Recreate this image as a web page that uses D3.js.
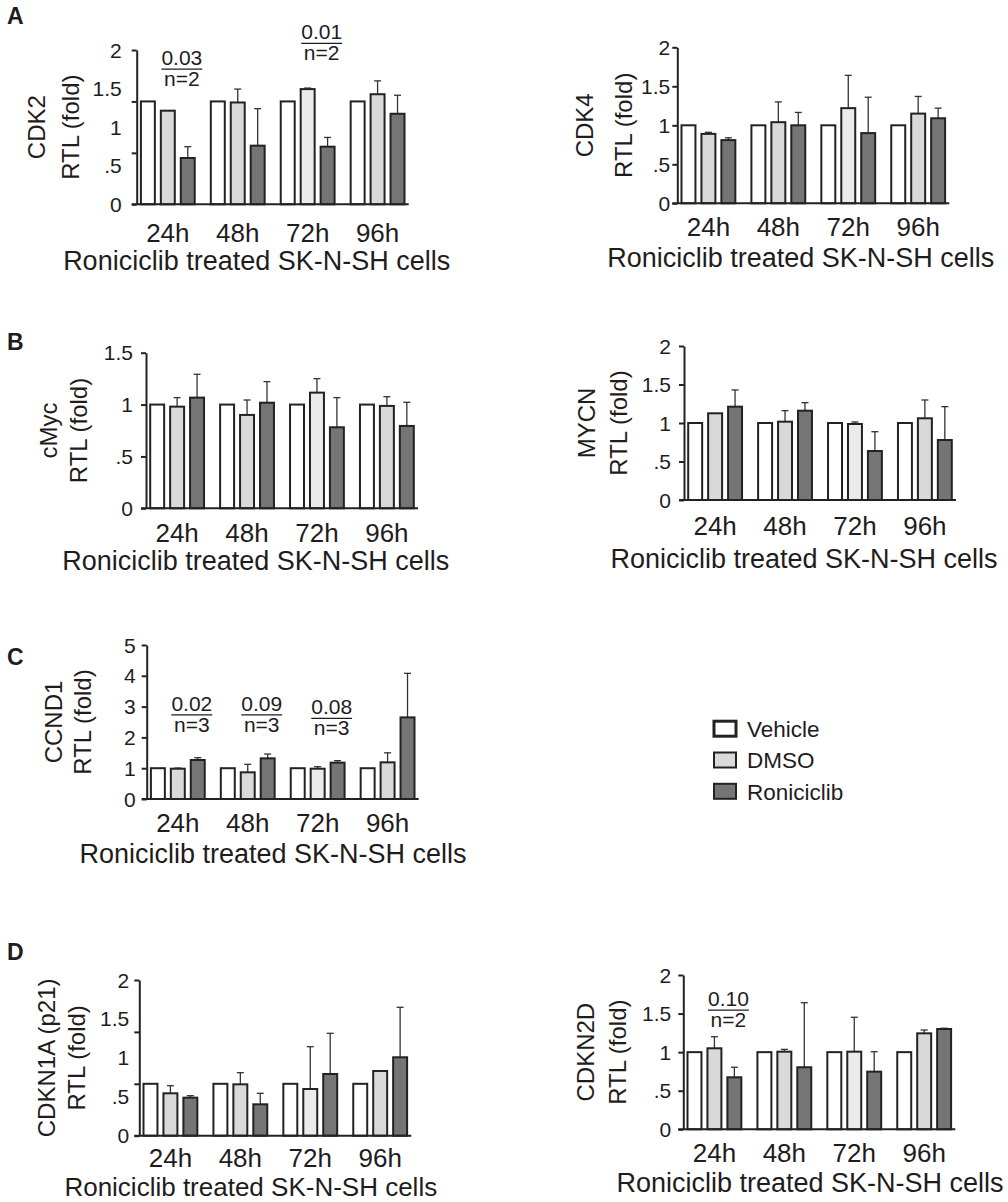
<!DOCTYPE html>
<html><head><meta charset="utf-8">
<script src="https://cdn.jsdelivr.net/npm/d3@7"></script>
<style>
body{margin:0;background:#fff}
svg text{font-family:"Liberation Sans", Arial, Helvetica, sans-serif; fill:#1f1c1d}
</style>
</head><body>
<svg id="c" width="1008" height="1202"></svg>
<script>
// ---------- data ----------
const timepoints = ["24h", "48h", "72h", "96h"];
const seriesNames = ["Vehicle", "DMSO", "Roniciclib"];
const vehicleMeans = [1, 1, 1, 1];

const cdk2DMSO = [0.91, 0.99, 1.12, 1.07];
const cdk2DMSOErr = [0, 0.13, 0.01, 0.13];
const cdk2Ronic = [0.45, 0.57, 0.56, 0.88];
const cdk2RonicErr = [0.11, 0.36, 0.09, 0.18];
const cdk2TickLabels = ["0", ".5", "1", "1.5", "2"];

const cdk4DMSO = [0.89, 1.04, 1.22, 1.15];
const cdk4DMSOErr = [0.02, 0.26, 0.42, 0.22];
const cdk4Ronic = [0.81, 1.0, 0.9, 1.09];
const cdk4RonicErr = [0.03, 0.165, 0.46, 0.13];
const cdk4TickLabels = ["0", ".5", "1", "1.5", "2"];

const cmycDMSO = [0.98, 0.9, 1.115, 0.987];
const cmycDMSOErr = [0.087, 0.144, 0.135, 0.089];
const cmycRonic = [1.067, 1.018, 0.781, 0.794];
const cmycRonicErr = [0.225, 0.203, 0.286, 0.228];
const cmycTickLabels = ["0", ".5", "1", "1.5"];

const mycnDMSO = [1.126, 1.017, 0.987, 1.061];
const mycnDMSOErr = [0, 0.143, 0.026, 0.238];
const mycnRonic = [1.212, 1.16, 0.636, 0.779];
const mycnRonicErr = [0.217, 0.104, 0.251, 0.433];
const mycnTickLabels = ["0", ".5", "1", "1.5", "2"];

const ccnd1DMSO = [0.984, 0.866, 0.984, 1.19];
const ccnd1DMSOErr = [0.02, 0.26, 0.065, 0.31];
const ccnd1Ronic = [1.266, 1.32, 1.18, 2.65];
const ccnd1RonicErr = [0.075, 0.14, 0.065, 1.43];
const ccnd1TickLabels = ["0", "1", "2", "3", "4", "5"];

const p21DMSO = [0.817, 0.99, 0.9, 1.247];
const p21DMSOErr = [0.146, 0.224, 0.815, 0];
const p21Ronic = [0.733, 0.605, 1.189, 1.511];
const p21RonicErr = [0.038, 0.212, 0.784, 0.963];
const p21TickLabels = ["0", ".5", "1", "1.5", "2"];

const cdkn2dDMSO = [1.05, 1.006, 1.006, 1.244];
const cdkn2dDMSOErr = [0.15, 0.03, 0.446, 0.043];
const cdkn2dRonic = [0.674, 0.804, 0.747, 1.3];
const cdkn2dRonicErr = [0.13, 0.837, 0.259, 0.01];
const cdkn2dTickLabels = ["0", ".5", "1", "1.5", "2"];

// significance annotations: time point, p-value, n, height (data units)
const cdk2Notes = [["24h", "0.03", "n=2", 1.315], ["72h", "0.01", "n=2", 1.565]];
const ccnd1Notes = [["24h", "0.02", "n=3", 2.73], ["48h", "0.09", "n=3", 2.73], ["72h", "0.08", "n=3", 2.62]];
const cdkn2dNotes = [["24h", "0.10", "n=2", 1.546]];

const axisTitle = "Roniciclib treated SK-N-SH cells";

// ---------- layout / style ----------
const fills = {Vehicle: "#ffffff", DMSO: "#d9d9d9", Roniciclib: "#757575"};
const dmso72Fill = "#ebebeb";
const ink = "#1f1c1d";
const panels = [
  {gene: "CDK2", letter: "A", letterY: 24, x0: 136.7, top: 50, base: 204.3, yMax: 1.5, ticks: [0, 0.5, 1, 1.5], labGap: 15, yl1: -92, yl2: -58, titleX: 256.7, tickDy: 37.5, titleDy: 66, titleSize: 27,
   dmso: cdk2DMSO, dmsoErr: cdk2DMSOErr, ronic: cdk2Ronic, ronicErr: cdk2RonicErr, tickLabels: cdk2TickLabels, notes: cdk2Notes},
  {gene: "CDK4", x0: 677.3, top: 47.3, base: 203.3, yMax: 2, ticks: [0, 0.5, 1, 1.5, 2], labGap: 7, yl1: -84, yl2: -45, titleX: 800.8, tickDy: 33, titleDy: 64, titleSize: 27,
   dmso: cdk4DMSO, dmsoErr: cdk4DMSOErr, ronic: cdk4Ronic, ronicErr: cdk4RonicErr, tickLabels: cdk4TickLabels, notes: []},
  {gene: "cMyc", letter: "B", letterY: 350, x0: 146, top: 352.7, base: 508.3, yMax: 1.5, ticks: [0, 0.5, 1, 1.5], labGap: 13, yl1: -89, yl2: -59, titleX: 255.8, tickDy: 33.4, titleDy: 61.7, titleSize: 27,
   dmso: cmycDMSO, dmsoErr: cmycDMSOErr, ronic: cmycRonic, ronicErr: cmycRonicErr, tickLabels: cmycTickLabels, notes: []},
  {gene: "MYCN", x0: 684, top: 346, base: 500, yMax: 2, ticks: [0, 0.5, 1, 1.5, 2], labGap: 13, yl1: -89, yl2: -57, titleX: 804, tickDy: 35, titleDy: 68, titleSize: 27,
   dmso: mycnDMSO, dmsoErr: mycnDMSOErr, ronic: mycnRonic, ronicErr: mycnRonicErr, tickLabels: mycnTickLabels, notes: []},
  {gene: "CCND1", letter: "C", letterY: 665, x0: 146.7, top: 645, base: 799, yMax: 5, ticks: [0, 1, 2, 3, 4, 5], labGap: 11, yl1: -85, yl2: -56, titleX: 273, tickDy: 32.7, titleDy: 64.3, titleSize: 27,
   dmso: ccnd1DMSO, dmsoErr: ccnd1DMSOErr, ronic: ccnd1Ronic, ronicErr: ccnd1RonicErr, tickLabels: ccnd1TickLabels, notes: ccnd1Notes},
  {gene: "CDKN1A (p21)", letter: "D", letterY: 960, x0: 139.3, top: 980, base: 1135.7, yMax: 3, ticks: [0, 1, 2, 3], labGap: 10, yl1: -84, yl2: -54, titleX: 250.8, tickDy: 31.2, titleDy: 60.6, titleSize: 26,
   dmso: p21DMSO, dmsoErr: p21DMSOErr, ronic: p21Ronic, ronicErr: p21RonicErr, tickLabels: p21TickLabels, notes: []},
  {gene: "CDKN2D", x0: 683.3, top: 975, base: 1129.3, yMax: 2, ticks: [0, 0.5, 1, 1.5, 2], labGap: 12, yl1: -89, yl2: -57, titleX: 810, tickDy: 32.3, titleDy: 62.4, titleSize: 27,
   dmso: cdkn2dDMSO, dmsoErr: cdkn2dDMSOErr, ronic: cdkn2dRonic, ronicErr: cdkn2dRonicErr, tickLabels: cdkn2dTickLabels, notes: cdkn2dNotes}
];
const axisW = 272;

const svg = d3.select("#c");
svg.append("rect").attr("width", 1008).attr("height", 1202).attr("fill", "#fff");

function drawPanel(p) {
  const g = svg.append("g");
  const y = d3.scaleLinear().domain([0, p.yMax]).range([p.base, p.top]);
  const x = d3.scaleBand().domain(timepoints).range([p.x0, p.x0 + axisW]).paddingInner(0.23).paddingOuter(0.06);
  const xs = d3.scaleBand().domain(seriesNames).range([0, x.bandwidth()]).paddingInner(0.3);

  const rows = [];
  timepoints.forEach((t, i) => {
    rows.push({t, s: "Vehicle", v: vehicleMeans[i], e: 0});
    rows.push({t, s: "DMSO", v: p.dmso[i], e: p.dmsoErr[i]});
    rows.push({t, s: "Roniciclib", v: p.ronic[i], e: p.ronicErr[i]});
  });

  const eb = g.append("g").attr("stroke", "#333").attr("stroke-width", 1.3);
  rows.filter(d => d.e > 0.004).forEach(d => {
    const cx = x(d.t) + xs(d.s) + xs.bandwidth() / 2;
    eb.append("line").attr("x1", cx).attr("x2", cx).attr("y1", y(d.v)).attr("y2", y(d.v + d.e));
    eb.append("line").attr("x1", cx - 3.5).attr("x2", cx + 3.5).attr("y1", y(d.v + d.e)).attr("y2", y(d.v + d.e));
  });

  g.append("g").selectAll("rect").data(rows).join("rect")
    .attr("x", d => x(d.t) + xs(d.s))
    .attr("y", d => y(d.v))
    .attr("width", xs.bandwidth())
    .attr("height", d => y(0) - y(d.v))
    .attr("fill", d => (d.s === "DMSO" && d.t === "72h") ? dmso72Fill : fills[d.s])
    .attr("stroke", "#222").attr("stroke-width", 2);

  const ya = g.append("g").attr("transform", `translate(${p.x0},0)`)
    .call(d3.axisLeft(y).tickValues(p.ticks).tickSize(5).tickSizeOuter(0).tickFormat(""));
  ya.select(".domain").attr("stroke", "#222").attr("stroke-width", 2);
  ya.selectAll(".tick line").attr("stroke", "#222").attr("stroke-width", 2);

  const li = d3.scaleLinear().domain([0, p.tickLabels.length - 1]).range([p.base, p.top]);
  g.append("g").selectAll("text").data(p.tickLabels).join("text")
    .attr("x", p.x0 - p.labGap).attr("y", (d, i) => li(i)).attr("dy", "0.36em")
    .attr("text-anchor", "end").attr("font-size", 21).text(d => d);

  g.append("line").attr("x1", p.x0 - 5).attr("x2", p.x0 + axisW).attr("y1", p.base).attr("y2", p.base)
    .attr("stroke", "#222").attr("stroke-width", 2);
  const xa = g.append("g").attr("transform", `translate(0,${p.base})`)
    .call(d3.axisBottom(x).tickSize(0).tickPadding(p.tickDy - 18.5));
  xa.select(".domain").remove();
  xa.attr("font-family", null).attr("font-size", null);
  xa.selectAll("text").attr("font-size", 26).style("fill", ink);

  g.append("text").attr("x", p.titleX).attr("y", p.base + p.titleDy).attr("text-anchor", "middle")
    .attr("font-size", p.titleSize).text(axisTitle);

  const cy = (p.top + p.base) / 2;
  g.append("text").attr("transform", `translate(${p.x0 + p.yl1},${cy}) rotate(-90)`)
    .attr("text-anchor", "middle").attr("font-size", 24).text(p.gene);
  g.append("text").attr("transform", `translate(${p.x0 + p.yl2},${cy}) rotate(-90)`)
    .attr("text-anchor", "middle").attr("font-size", 24).text("RTL (fold)");

  if (p.letter) {
    svg.append("text").attr("x", 7).attr("y", p.letterY).attr("font-size", 23).attr("font-weight", "bold").text(p.letter);
  }

  p.notes.forEach(([t, pv, n, h]) => {
    const cx = x(t) + x.bandwidth() / 2 + 14;
    const ly = y(h);
    const num = g.append("text").attr("x", cx).attr("y", ly - 4).attr("text-anchor", "middle").attr("font-size", 21).text(pv);
    const w = num.node().getComputedTextLength();
    g.append("line").attr("x1", cx - w / 2).attr("x2", cx + w / 2).attr("y1", ly).attr("y2", ly)
      .attr("stroke", ink).attr("stroke-width", 1.3);
    g.append("text").attr("x", cx).attr("y", ly + 17).attr("text-anchor", "middle").attr("font-size", 21).text(n);
  });
}

panels.forEach(drawPanel);

// legend
const lg = svg.append("g");
const legY = d3.scalePoint().domain(seriesNames).range([728.7, 791.3]);
seriesNames.forEach(s => {
  lg.append("rect").attr("x", 714).attr("y", legY(s) - 7.5).attr("width", 22).attr("height", 15)
    .attr("fill", fills[s]).attr("stroke", "#222").attr("stroke-width", s === "Vehicle" ? 3 : 2);
  lg.append("text").attr("x", 747).attr("y", legY(s) + 8.3).attr("font-size", 22.5).text(s);
});
</script>
</body></html>
